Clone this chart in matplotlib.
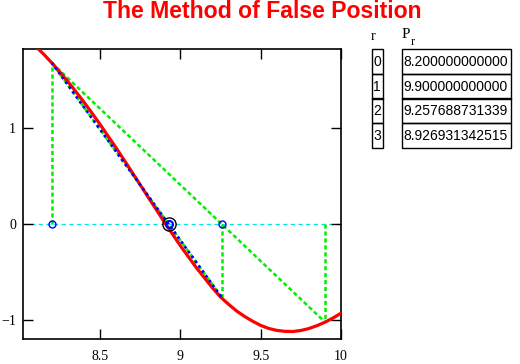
import matplotlib
matplotlib.use("Agg")
import matplotlib.pyplot as plt
from matplotlib.patches import Rectangle

# ---- data ----
curve_x = [8.10, 8.15, 8.2, 8.25, 8.3, 8.35, 8.4, 8.45, 8.5, 8.6, 8.7, 8.8, 8.9, 9.0, 9.1,
           9.2, 9.25, 9.3, 9.35, 9.4, 9.45, 9.5, 9.55, 9.6, 9.65, 9.7, 9.75, 9.8, 9.85,
           9.9, 9.95, 10.0, 10.03]
curve_y = [1.85, 1.77, 1.68, 1.585, 1.485, 1.38, 1.271, 1.157, 1.04, 0.795, 0.54, 0.28,
           0.0225, -0.225, -0.455, -0.665, -0.76, -0.835, -0.905, -0.962, -1.012, -1.055,
           -1.087, -1.107, -1.117, -1.119, -1.108, -1.088, -1.058, -1.022, -0.978, -0.928,
           -0.895]

r_labels = ["0", "1", "2", "3"]
P_values = [8.2, 9.9, 9.257688731339, 8.926931342515]
P_text = ["8.200000000000", "9.900000000000", "9.257688731339", "8.926931342515"]
fP_values = [1.68, -1.02, -0.764]   # f(P0), f(P1), f(P2)

x_ticks = [8.5, 9, 9.5, 10]
x_tick_labels = ["8.5", "9", "9.5", "10"]
y_ticks = [-1, 0, 1]
y_tick_labels = ["\u22121", "0", "1"]

plt.rcParams["lines.scale_dashes"] = False

W, H = 520, 364
fig = plt.figure(figsize=(W / 100, H / 100), dpi=100)
fig.patch.set_facecolor("white")

def fx(px):
    return px / W

def fy(py):
    return 1 - py / H

ax = fig.add_axes([fx(23), fy(339.3), (341 - 23) / W, (339.3 - 49.3) / H])
ax.set_xlim(8.02, 10.0)
ax.set_ylim(-1.20, 1.823)

green = "#00ee00"
dash_g = (0, (3, 2))
# cyan zero line
ax.axhline(0, color="#00e5e5", lw=0.9, linestyle=(0, (3, 2.5)), zorder=1)

# green verticals
for k in range(3):
    ax.plot([P_values[k], P_values[k]], [0, fP_values[k]], color=green, lw=1.8,
            linestyle=dash_g, zorder=2)
# green secants
ax.plot([P_values[0], P_values[1]], [fP_values[0], fP_values[1]], color=green, lw=1.8,
        linestyle=dash_g, zorder=2)
ax.plot([P_values[0], P_values[2]], [fP_values[0], fP_values[2]], color=green, lw=1.8,
        linestyle=dash_g, zorder=2)

# red function curve
ax.plot(curve_x, curve_y, color="#ff0000", lw=2.3, zorder=3, solid_joinstyle="round")

# blue dotted secant (last)
ax.plot([P_values[0], P_values[2]], [fP_values[0], fP_values[2]], color="#0000ff", lw=1.9,
        linestyle=(0.5, (1.9, 2.4)), zorder=4)

# markers on zero line
ax.plot([P_values[0], P_values[2]], [0, 0], linestyle="none", marker="o", ms=5,
        mfc="none", mec="#0000ff", mew=1.0, zorder=5)
ax.plot([P_values[3]], [0], linestyle="none", marker="o", ms=9.5, mfc="none",
        mec="black", mew=1.0, zorder=5)
ax.plot([P_values[3]], [0], linestyle="none", marker="o", ms=5, mfc="none",
        mec="#0000ff", mew=1.5, zorder=6)

ax.set_xticks(x_ticks)
ax.set_xticklabels(x_tick_labels)
ax.set_yticks(y_ticks)
ax.set_yticklabels(y_tick_labels)
ax.tick_params(direction="in", length=7.2, width=1.0, top=True, right=True,
               labelsize=10, colors="black")
ax.tick_params(axis="x", pad=7.5)
ax.tick_params(axis="y", pad=5)
for lab in ax.get_xticklabels() + ax.get_yticklabels():
    lab.set_family("Liberation Serif")
for s in ax.spines.values():
    s.set_linewidth(1.2)

# title
fig.text(fx(262.5), fy(12), "The Method of False Position", color="#ff0000",
         fontsize=16.6, fontweight="bold", family="Liberation Sans",
         ha="center", va="center")

# table headers
fig.text(fx(373), fy(36), "r", fontsize=10, family="Liberation Serif",
         ha="center", va="center")
fig.text(fx(402), fy(34), "P", fontsize=11, family="Liberation Serif",
         ha="left", va="center")
fig.text(fx(411), fy(42), "r", fontsize=9, family="Liberation Serif",
         ha="left", va="center")

row_top = 49.3
row_h = 24.6
for i, (rl, pt) in enumerate(zip(r_labels, P_text)):
    top = row_top + i * row_h
    fig.add_artist(Rectangle((fx(371.7), fy(top + row_h)), (382.5 - 371.7) / W, row_h / H,
                             transform=fig.transFigure, fill=False, lw=1.0, ec="black"))
    fig.add_artist(Rectangle((fx(401.7), fy(top + row_h)), (510.7 - 401.7) / W, row_h / H,
                             transform=fig.transFigure, fill=False, lw=1.0, ec="black"))
    fig.text(fx(377.2), fy(top + row_h / 2 + 0.5), rl, fontsize=10, family="Liberation Sans",
             ha="center", va="center")
    fig.text(fx(403), fy(top + row_h / 2 + 0.5), pt, fontsize=10, family="Liberation Sans",
             ha="left", va="center")

fig.savefig("out.png", dpi=100, facecolor="white")
